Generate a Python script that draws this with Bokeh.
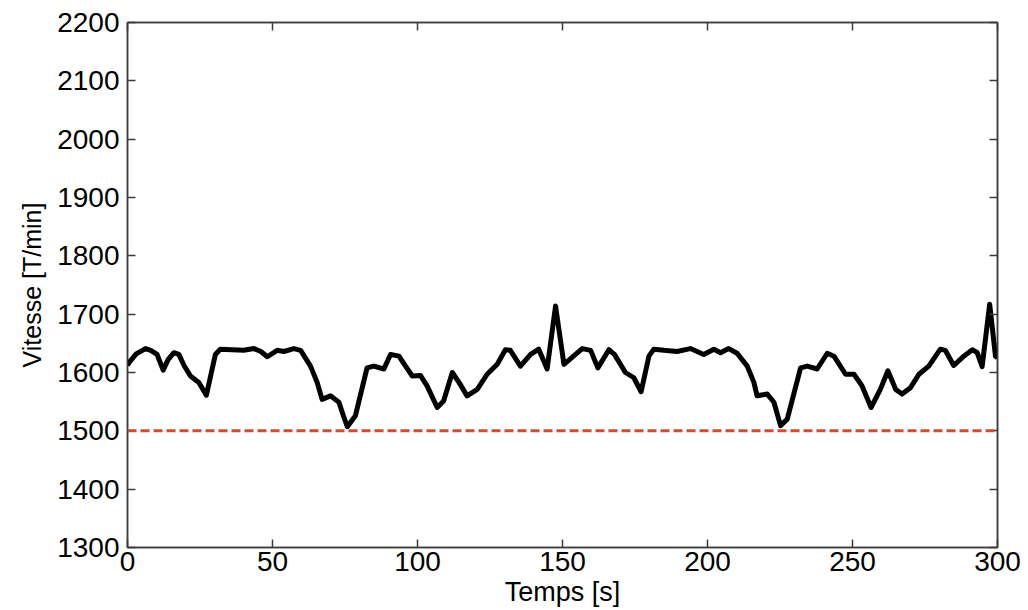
from bokeh.plotting import figure
from bokeh.models import Span, LinearAxis, FixedTicker, Range1d, CustomLabelingPolicy
from bokeh.embed import file_html
from bokeh.resources import INLINE

# ---- data ----
temps = [0, 0.5, 3, 6.2, 8, 10.2, 12.3, 14, 16, 17.7,
         19.5, 21.7, 24.6, 27.2, 30.3, 32, 36, 40.1, 43.6, 46,
         48.2, 51.6, 53.9, 57.4, 59.7, 63.1, 65.4, 67.1, 70, 72.9,
         74.5, 75.8, 78.6, 82.6, 84.9, 88.4, 90.7, 93.6, 96, 98.2,
         101, 103.3, 106.8, 109, 112, 114.3, 117.1, 120.6, 124, 127.5,
         130.3, 132, 135.5, 139, 141.8, 144.7, 147.6, 150.5, 153.3, 156.8,
         159.7, 162.2, 166, 167.9, 171.7, 174.6, 177.1, 179.8, 181.5, 185,
         189.5, 194.1, 198.7, 202.2, 204.5, 207.3, 210.2, 213.7, 216, 217.1,
         220.6, 222.9, 225.2, 227.5, 232.1, 234.4, 237.8, 241.3, 243.6, 247.6,
         250.5, 253.3, 256.4, 259.6, 262.2, 264.9, 267.1, 270, 272.9, 276.3,
         280.3, 282, 284.9, 288.4, 291.3, 293, 294.7, 297.3, 299.3, 300]
vitesse = [1612, 1617, 1632, 1641, 1638, 1631, 1604, 1622, 1634, 1631,
           1612, 1594, 1583, 1561, 1631, 1640, 1639, 1638, 1641, 1636,
           1627, 1638, 1636, 1641, 1638, 1611, 1583, 1554, 1560, 1549,
           1525, 1507, 1526, 1608, 1611, 1606, 1631, 1628, 1610, 1594,
           1595, 1577, 1540, 1551, 1600, 1583, 1560, 1571, 1597, 1614,
           1639, 1638, 1611, 1631, 1640, 1606, 1714, 1614, 1626, 1641,
           1638, 1608, 1639, 1631, 1600, 1591, 1567, 1628, 1640, 1638,
           1636, 1641, 1631, 1640, 1634, 1641, 1633, 1611, 1583, 1560,
           1563, 1549, 1509, 1520, 1608, 1611, 1606, 1633, 1628, 1597,
           1597, 1577, 1540, 1571, 1603, 1571, 1563, 1574, 1597, 1611,
           1640, 1638, 1612, 1628, 1639, 1634, 1610, 1717, 1628, 1625]
vitesse_ref = 1500
x_ticks = [0, 50, 100, 150, 200, 250, 300]
y_ticks = [1300, 1400, 1500, 1600, 1700, 1800, 1900, 2000, 2100, 2200]
x_label = "Temps [s]"
y_label = "Vitesse [T/min]"

FONT = "Liberation Sans"
AX_COL = "#3c3c3c"

p = figure(width=1026, height=609, output_backend="svg", toolbar_location=None,
           x_range=Range1d(0, 300), y_range=Range1d(1300, 2200),
           min_border_left=127, min_border_right=29, min_border_top=22,
           min_border_bottom=60)
p.grid.visible = False
p.outline_line_color = AX_COL
p.outline_line_width = 1.5
p.background_fill_color = "white"
p.border_fill_color = "white"

hide_all = CustomLabelingPolicy(code="""
const ids = Array.from(indices);
for (const i of ids) { indices.unset(i); }
return indices;
""")

def style(ax, ticks, show_labels=True):
    ax.ticker = FixedTicker(ticks=ticks)
    ax.minor_tick_line_color = None
    ax.major_tick_in = 8
    ax.major_tick_out = 0
    ax.axis_line_color = AX_COL
    ax.axis_line_width = 1.5
    ax.major_tick_line_color = AX_COL
    ax.major_tick_line_width = 1.5
    ax.major_label_text_font = FONT
    ax.major_label_text_color = "black"
    ax.axis_label_text_font = FONT
    ax.axis_label_text_font_style = "normal"
    ax.axis_label_text_color = "black"
    if not show_labels:
        ax.major_label_policy = hide_all
        ax.major_label_text_font_size = "0px"
        ax.major_label_standoff = 0

style(p.xaxis[0], x_ticks)
style(p.yaxis[0], y_ticks)
p.xaxis[0].major_label_text_font_size = "28px"
p.yaxis[0].major_label_text_font_size = "28px"
p.xaxis[0].major_label_standoff = 4
p.yaxis[0].major_label_standoff = 8
p.xaxis[0].axis_label = x_label
p.yaxis[0].axis_label = y_label
p.xaxis[0].axis_label_text_font_size = "27px"
p.yaxis[0].axis_label_text_font_size = "25px"
p.xaxis[0].axis_label_standoff = 3
p.yaxis[0].axis_label_standoff = 8

top = LinearAxis()
style(top, x_ticks, show_labels=False)
p.add_layout(top, "above")
right = LinearAxis()
style(right, y_ticks, show_labels=False)
p.add_layout(right, "right")

p.add_layout(Span(location=vitesse_ref, dimension="width", line_color="#d64a2e",
                  line_width=3, line_dash="9 4"))
p.line(temps, vitesse, line_color="black", line_width=5, line_join="round")

open("out.html", "w").write(file_html(p, INLINE))
